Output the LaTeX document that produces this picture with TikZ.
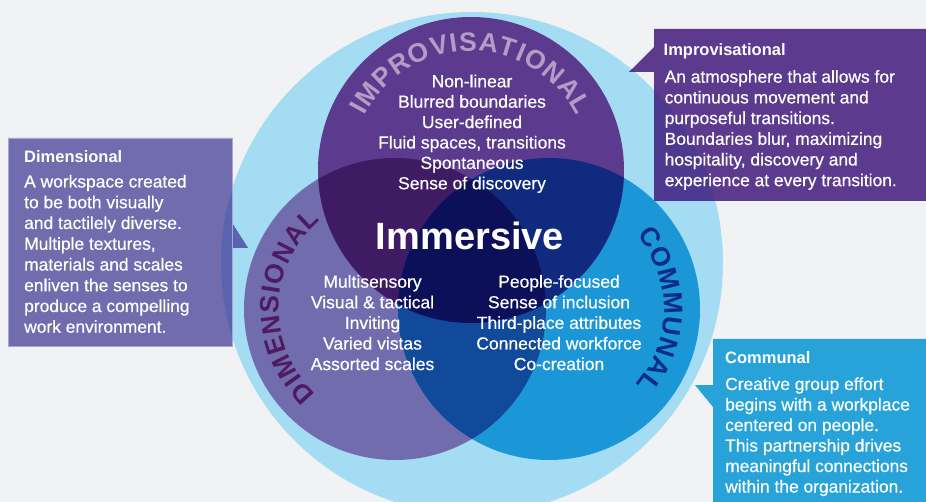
\documentclass[tikz,border=0pt]{standalone}
\usepackage{fontspec}
\setmainfont{Liberation Sans}
\newfontfamily\medfont{Liberation Sans}[FakeBold=0.5]
\usetikzlibrary{decorations.text}
\definecolor{bg}{HTML}{F1F2F4}
\definecolor{lightblue}{HTML}{A4DDF3}
\definecolor{improvc}{HTML}{5C3A8E}
\definecolor{dimc}{HTML}{716CAE}
\definecolor{commc}{HTML}{1B96D7}
\definecolor{pdc}{HTML}{3F1B63}
\definecolor{pcc}{HTML}{102A80}
\definecolor{dcc}{HTML}{114A9A}
\definecolor{allc}{HTML}{0B1059}
\definecolor{improvtxt}{HTML}{B59CC6}
\definecolor{dimtxt}{HTML}{4E1A62}
\definecolor{commtxt}{HTML}{0B2C85}
\definecolor{dimbox}{HTML}{716CAE}
\definecolor{dimboxdark}{HTML}{5C63AE}
\definecolor{dimboxedge}{HTML}{A9A6D2}
\definecolor{improvbox}{HTML}{5C3A8E}
\definecolor{improvboxdark}{HTML}{4D3A90}
\definecolor{commbox}{HTML}{27A3DA}
\newcommand{\curvefont}{\fontsize{26.5}{27}\selectfont\bfseries}
\begin{document}
\begin{tikzpicture}[x=1pt,y=-1pt,
  bodyline/.style={text=white, inner sep=0pt, anchor=base west, font=\medfont\fontsize{17.4}{20}\selectfont},
  titleline/.style={text=white, inner sep=0pt, anchor=base west, font=\fontsize{16.5}{20}\selectfont\bfseries},
  listline/.style={text=white, inner sep=0pt, anchor=base, font=\medfont\fontsize{17.5}{20}\selectfont},
  bigword/.style={text=white, inner sep=0pt, anchor=base, font=\fontsize{38}{40}\selectfont\bfseries},
]
\fill[bg] (0,0) rectangle (926,502);
\useasboundingbox (0,0) rectangle (926,502);

\coordinate (LB) at (472,263);
\coordinate (P) at (471,170);
\coordinate (D) at (395,309);
\coordinate (C) at (549,309);

% circles
\fill[lightblue] (LB) circle (251);
\fill[dimc] (D) circle (151);
\fill[commc] (C) circle (151);
\fill[improvc] (P) circle (153);
\begin{scope}\clip (P) circle (153); \fill[pdc] (D) circle (151);\end{scope}
\begin{scope}\clip (P) circle (153); \fill[pcc] (C) circle (151);\end{scope}
\begin{scope}\clip (D) circle (151); \fill[dcc] (C) circle (151);\end{scope}
\begin{scope}\clip (P) circle (153); \clip (D) circle (151); \fill[allc] (C) circle (151);\end{scope}

% curved titles
\path[decorate, decoration={text along path, text align={fit to path},
  text={|\curvefont\color{improvtxt}|IMPROVISATIONAL}}]
  (P) ++(-153:119) arc[start angle=-153, end angle=-27, radius=119];
\path[decorate, decoration={text along path, text align={fit to path},
  text={|\curvefont\color{dimtxt}|DIMENSIONAL}}]
  (D) ++(-227:116) arc[start angle=-227, end angle=-130, radius=116];
\path[decorate, decoration={text along path, text align={fit to path},
  text={|\curvefont\color{commtxt}|COMMUNAL}}]
  (C) ++(-40:115) arc[start angle=-40, end angle=41, radius=115];

% circle lists
\foreach \t [count=\i from 0] in {Non-linear, Blurred boundaries, User-defined, {Fluid spaces, transitions}, Spontaneous, Sense of discovery}
  \node[listline] (pl\i) at (472, 87.3+20.4*\i) {\t};
\foreach \t [count=\i from 0] in {Multisensory, Visual \& tactical, Inviting, Varied vistas, Assorted scales}
  \node[listline] (dl\i) at (372.5, 287.7+20.6*\i) {\t};
\foreach \t [count=\i from 0] in {People-focused, Sense of inclusion, Third-place attributes, Connected workforce, Co-creation}
  \node[listline] (cl\i) at (559, 287.7+20.6*\i) {\t};
\node[bigword] (imm) at (470, 249.3) {Immersive};

% Dimensional callout
\fill[dimbox] (8,138) -- (232,138) -- (232,223) -- (248,248) -- (232,248) -- (232,346) -- (8,346) -- cycle;
\begin{scope}\clip (LB) circle (251);
\fill[dimboxdark] (8,138) -- (232,138) -- (232,223) -- (248,248) -- (232,248) -- (232,346) -- (8,346) -- cycle;
\end{scope}
\draw[dimboxedge, line width=0.7pt] (8,138) rectangle (232,346);
\node[titleline] (dt) at (24,162.3) {Dimensional};
\foreach \t [count=\i from 0] in {A workspace created, to be both visually, and tactilely diverse., {Multiple textures,}, materials and scales, enliven the senses to, produce a compelling, work environment.}
  \node[bodyline] (db\i) at (24, 187.5+20.75*\i) {\t};

% Improvisational callout
\fill[improvbox] (654,29) -- (926,29) -- (926,201) -- (654,201) -- (654,72) -- (629,72) -- (654,47) -- cycle;
\begin{scope}\clip (LB) circle (251);
\fill[improvboxdark] (654,29) -- (926,29) -- (926,201) -- (654,201) -- (654,72) -- (629,72) -- (654,47) -- cycle;
\end{scope}
\node[titleline] (it) at (663.5,56) {Improvisational};
\foreach \t [count=\i from 0] in {An atmosphere that allows for, continuous movement and, purposeful transitions., {Boundaries blur, maximizing}, {hospitality, discovery and}, experience at every transition.}
  \node[bodyline] (ib\i) at (664.5, 82.7+20.7*\i) {\t};

% Communal callout
\fill[commbox] (713,339) -- (926,339) -- (926,502) -- (713,502) -- (713,407) -- (695,385) -- (713,385) -- cycle;
\node[titleline] (ct) at (725,363.3) {Communal};
\foreach \t [count=\i from 0] in {Creative group effort, begins with a workplace, centered on people., This partnership drives, meaningful connections, within the organization.}
  \node[bodyline] (cb\i) at (725, 390+20.5*\i) {\t};
\end{tikzpicture}
\end{document}
